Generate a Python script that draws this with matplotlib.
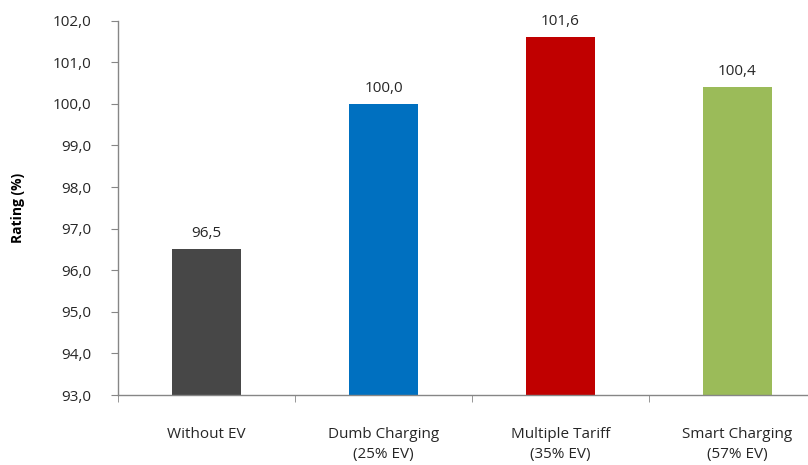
import matplotlib
matplotlib.use("Agg")
import matplotlib.pyplot as plt

categories = ["Without EV", "Dumb Charging\n(25% EV)", "Multiple Tariff\n(35% EV)", "Smart Charging\n(57% EV)"]
values = [96.5, 100.0, 101.6, 100.4]
colors = ["#474747", "#0070C0", "#C00000", "#9BBB59"]
yticks = [93, 94, 95, 96, 97, 98, 99, 100, 101, 102]

plt.rcParams['font.family'] = ['Open Sans', 'DejaVu Sans']

fig = plt.figure(figsize=(8.08, 4.65), dpi=100)
ax = fig.add_axes([118/808, 70/465, 708/808, 374.3/465])

x = list(range(len(categories)))
ax.bar(x, values, width=0.39, color=colors, bottom=0)
for xi, v in zip(x, values):
    ax.text(xi, v + 0.2, f"{v:.1f}".replace(".", ","), ha="center", va="bottom",
            fontsize=11, color="#262626")

ax.set_ylim(93, 102)
ax.set_xlim(-0.5, 3.5)
ax.set_yticks(yticks)
ax.set_yticklabels([f"{t:.1f}".replace(".", ",") for t in yticks], fontsize=11, color="#262626")
ax.set_xticks(x)
ax.set_xticklabels(categories, fontsize=11, color="#262626", linespacing=1.5)
ax.tick_params(axis="x", which="major", length=0, pad=23)
ax.set_xticks([-0.5, 0.5, 1.5, 2.5, 3.5], minor=True)
ax.tick_params(axis="x", which="minor", length=5, color="#868686", direction="out")
ax.tick_params(axis="y", length=5, color="#868686", direction="out", pad=14)

for s in ["top", "right"]:
    ax.spines[s].set_visible(False)
for s in ["left", "bottom"]:
    ax.spines[s].set_color("#868686")
    ax.spines[s].set_linewidth(1.0)

ax.set_ylabel("Rating (%)", fontsize=10, fontweight="bold", color="#000000", labelpad=20)

fig.savefig("out.png", dpi=100)
